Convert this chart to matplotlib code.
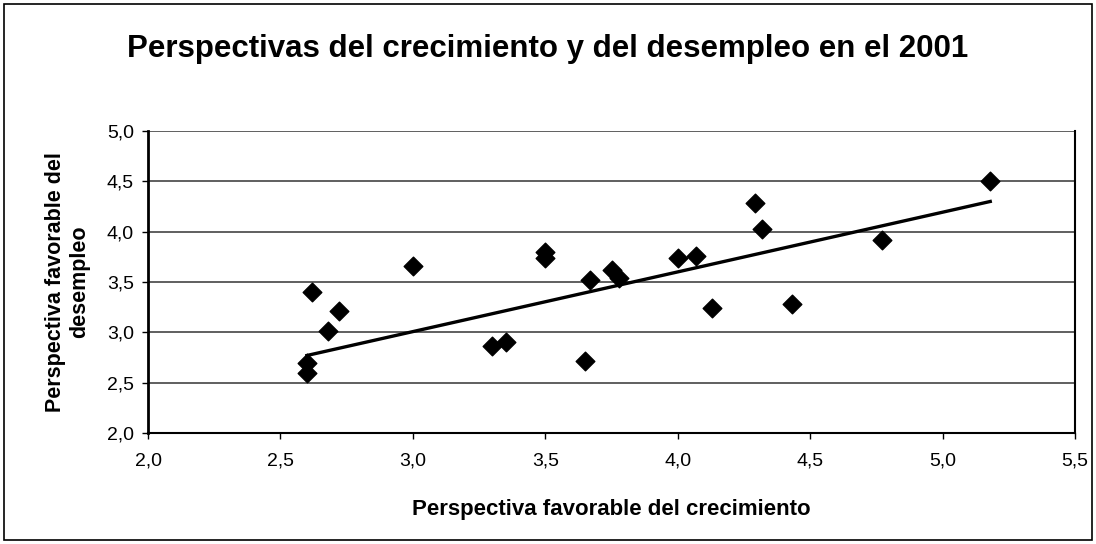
import numpy as np
import matplotlib
matplotlib.use('Agg')
import matplotlib.pyplot as plt
from matplotlib.ticker import FuncFormatter, MultipleLocator
from matplotlib.patches import Rectangle

# data
crecimiento = [2.60, 2.60, 2.62, 2.72, 2.68, 3.00, 3.30, 3.35, 3.50, 3.50, 3.65,
               3.67, 3.75, 3.78, 4.00, 4.07, 4.13, 4.29, 4.32, 4.43, 4.77, 5.18]
desempleo = [2.70, 2.60, 3.40, 3.21, 3.01, 3.66, 2.86, 2.90, 3.80, 3.74, 2.72,
             3.52, 3.62, 3.54, 3.74, 3.76, 3.24, 4.28, 4.03, 3.28, 3.92, 4.50]

# trend line ends, as drawn in the chart
trend_x = [2.60, 5.18]
trend_y = [2.77, 4.30]

title = 'Perspectivas del crecimiento y del desempleo en el 2001'
xlabel = 'Perspectiva favorable del crecimiento'
ylabel = 'Perspectiva favorable del\ndesempleo'

plt.rcParams['font.family'] = ['Liberation Sans', 'DejaVu Sans']

fig = plt.figure(figsize=(10.96, 5.44), dpi=100)
W, H = 1096, 544
# plot area in pixels: left 148, right 1075, top 131, bottom 433
ax = fig.add_axes([148 / W, 1 - 433 / H, (1075 - 148) / W, (433 - 131) / H])

ax.scatter(crecimiento, desempleo, marker='D', s=90, color='black', zorder=3)
ax.plot(trend_x, trend_y, color='black', linewidth=2.4, zorder=2)

ax.set_xlim(2.0, 5.5)
ax.set_ylim(2.0, 5.0)
ax.xaxis.set_major_locator(MultipleLocator(0.5))
ax.yaxis.set_major_locator(MultipleLocator(0.5))
comma = FuncFormatter(lambda v, p: f'{v:.1f}'.replace('.', ','))
ax.xaxis.set_major_formatter(comma)
ax.yaxis.set_major_formatter(comma)
ax.tick_params(labelsize=14, length=4, width=1)
ax.tick_params(axis='x', pad=10)
ax.tick_params(axis='y', pad=6)

ax.grid(axis='y', color='#444444', linewidth=1.2)
ax.set_axisbelow(True)
ax.spines['top'].set_visible(False)
ax.spines['left'].set_linewidth(2)
ax.spines['bottom'].set_linewidth(1.5)
ax.spines['right'].set_linewidth(1.5)

ax.set_xlabel(xlabel, fontsize=16, fontweight='bold', labelpad=21)
ax.set_ylabel(ylabel, fontsize=15.5, fontweight='bold', labelpad=12)

fig.text(0.5, 1 - 49 / H, title, ha='center', va='center', fontsize=22.5, fontweight='bold')

# outer chart frame
fig.patches.append(Rectangle((4 / W, 4 / H), 1 - 8 / W, 1 - 8 / H, transform=fig.transFigure,
                             fill=False, edgecolor='black', linewidth=1.2))

fig.savefig('out.png', dpi=100)
